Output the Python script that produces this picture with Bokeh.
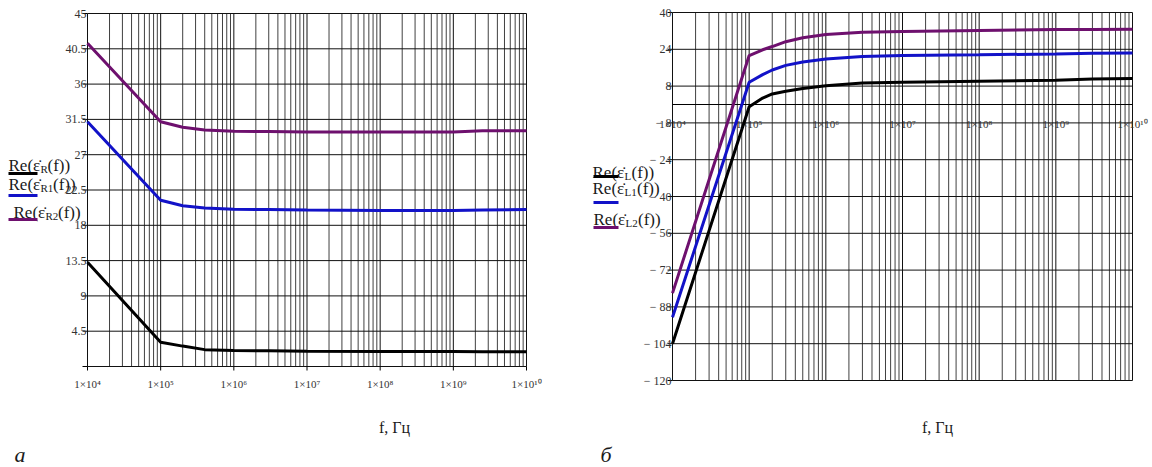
import math
from bokeh.plotting import figure
from bokeh.models import Range1d
from bokeh.layouts import row
from bokeh.embed import file_html
from bokeh.resources import INLINE
from bokeh.core.properties import value

# ---------------- data ----------------
freq_a = [1e4, 1e5, 2e5, 4e5, 1e6, 3e6, 1e7, 1e8, 1e9, 2.5e9, 1e10]
eps_R = [13.3, 3.1, 2.6, 2.15, 2.05, 2.0, 1.95, 1.92, 1.9, 1.88, 1.88]
eps_R1 = [31.2, 21.2, 20.5, 20.2, 20.05, 20.0, 19.95, 19.9, 19.9, 19.95, 20.0]
eps_R2 = [41.2, 31.2, 30.5, 30.15, 30.0, 29.95, 29.9, 29.9, 29.9, 30.05, 30.05]

freq_b = [1e4, 1e5, 1.5e5, 2e5, 3e5, 5e5, 1e6, 3e6, 1e7, 1e8, 1e9, 3e9, 1e10]
eps_L = [-104.0, -1.0, 2.8, 4.6, 5.8, 7.0, 8.2, 9.3, 9.7, 10.1, 10.5, 11.1, 11.3]
eps_L1 = [-92.5, 9.7, 13.0, 15.0, 17.0, 18.5, 19.8, 20.9, 21.3, 21.6, 22.0, 22.3, 22.4]
eps_L2 = [-82.0, 21.3, 23.8, 25.2, 27.3, 29.0, 30.4, 31.4, 31.7, 32.2, 32.6, 32.6, 32.7]

decades = [1e4, 1e5, 1e6, 1e7, 1e8, 1e9, 1e10]
x_tick_labels = ["1×10⁴", "1×10⁵", "1×10⁶", "1×10⁷", "1×10⁸", "1×10⁹", "1×10¹⁰"]

y_ticks_a = [0, 4.5, 9, 13.5, 18, 22.5, 27, 31.5, 36, 40.5, 45]
y_labels_a = ["", "4.5", "9", "13.5", "18", "22.5", "27", "31.5", "36", "40.5", "45"]

y_ticks_b = [-120, -104, -88, -72, -56, -40, -24, -8, 8, 24, 40]
y_labels_b = ["− 120", "− 104", "− 88", "− 72", "− 56", "− 40", "− 24", "− 8", "8", "24", "40"]

legend_a = [("Re(ε̇", "R", "(f))"), ("Re(ε̇", "R1", "(f))"), ("Re(ε̇", "R2", "(f))")]
legend_b = [("Re(ε̇", "L", "(f))"), ("Re(ε̇", "L1", "(f))"), ("Re(ε̇", "L2", "(f))")]
axis_title = "f, Гц"
panel_letters = ["а", "б"]

BLACK = "#000000"
BLUE = "#1212C8"
PURPLE = "#6E106E"
SERIF = value("Liberation Serif")
TXT = "#1a1a1a"

minor = [m * d for d in decades[:-1] for m in range(2, 10)]
W, H = 576, 466


def make_panel(bx0, bx1, by0, by1, ylo, yhi):
    """Figure whose frame is the whole canvas; the plot box sits at pixels bx0..bx1, by0..by1."""
    dpx = (bx1 - bx0) / 6.0
    ppu = (by1 - by0) / float(yhi - ylo)
    x_start = 10 ** (4 - bx0 / dpx)
    x_end = 10 ** (10 + (W - bx1) / dpx)
    y_end = yhi + by0 / ppu
    y_start = ylo - (H - by1) / ppu
    p = figure(width=W, height=H, x_axis_type="log", x_axis_location=None, y_axis_location=None,
               x_range=Range1d(x_start, x_end), y_range=Range1d(y_start, y_end),
               min_border=0, toolbar_location=None, output_backend="svg")
    p.grid.visible = False
    p.outline_line_color = None
    p.background_fill_color = "white"
    p.border_fill_color = "white"

    def X(px):
        return 10 ** (4 + (px - bx0) / dpx)

    def Y(py):
        return ylo + (by1 - py) / ppu

    return p, X, Y


def draw_box(p, ylo, yhi, yticks, ylabels):
    # vertical grid (minor then decades)
    p.segment(x0=minor, y0=[ylo] * len(minor), x1=minor, y1=[yhi] * len(minor),
              line_color="#404040", line_width=1)
    p.segment(x0=decades, y0=[ylo] * len(decades), x1=decades, y1=[yhi] * len(decades),
              line_color="#111111", line_width=1)
    # horizontal grid at y ticks
    p.segment(x0=[decades[0]] * len(yticks), y0=yticks, x1=[decades[-1]] * len(yticks), y1=yticks,
              line_color="#111111", line_width=1)
    # y tick marks & labels
    p.ray(x=[decades[0]] * len(yticks), y=yticks, length=5, length_units="screen",
          angle=math.pi, line_color="black", line_width=1)
    p.text(x=[decades[0]] * len(yticks), y=yticks, text=ylabels, x_offset=-1,
           text_align="right", text_baseline="middle", text_font=SERIF,
           text_font_size="12px", text_color="#333333")


def add_legend(p, X, Y, entries, starts, baselines, colors, line_ys, lx0, lx1):
    for (a, sub, b), sx, by in zip(entries, starts, baselines):
        w = 7 if len(sub) == 1 else 12.5
        p.text(x=[X(sx)], y=[Y(by)], text=[a], text_font=SERIF, text_font_size="17px",
               text_color=TXT, text_baseline="alphabetic")
        p.text(x=[X(sx + 32)], y=[Y(by + 3)], text=[sub], text_font=SERIF, text_font_size="11px",
               text_color=TXT, text_baseline="alphabetic")
        p.text(x=[X(sx + 32 + w)], y=[Y(by)], text=[b], text_font=SERIF, text_font_size="17px",
               text_color=TXT, text_baseline="alphabetic")
    for c, ly in zip(colors, line_ys):
        p.segment(x0=[X(lx0)], y0=[Y(ly)], x1=[X(lx1)], y1=[Y(ly)], line_color=c, line_width=3)


# ---------------- panel а ----------------
pa, Xa, Ya = make_panel(87, 526, 13, 366, 0, 45)
draw_box(pa, 0, 45, y_ticks_a, y_labels_a)
pa.ray(x=decades, y=[0] * len(decades), length=4, length_units="screen", angle=-math.pi / 2,
       line_color="black", line_width=1)
pa.text(x=decades, y=[0] * len(decades), text=x_tick_labels, y_offset=17, text_align="center",
        text_baseline="middle", text_font=SERIF, text_font_size="11px", text_color="#333333")

pa.line(freq_a, eps_R, line_color=BLACK, line_width=3)
pa.line(freq_a, eps_R1, line_color=BLUE, line_width=3)
pa.line(freq_a, eps_R2, line_color=PURPLE, line_width=3)

add_legend(pa, Xa, Ya, legend_a, [8, 8, 13], [165, 184, 212], [BLACK, BLUE, PURPLE],
           [173, 195, 219], 8, 37)
pa.text(x=[Xa(394)], y=[Ya(427)], text=[axis_title], text_font=SERIF, text_font_size="16px",
        text_align="center", text_baseline="alphabetic", text_color=TXT)
pa.text(x=[Xa(14)], y=[Ya(454)], text=[panel_letters[0]], text_font=SERIF, text_font_style="italic",
        text_font_size="22px", text_baseline="alphabetic", text_color=TXT)

# ---------------- panel б ----------------
pb, Xb, Yb = make_panel(96, 556, 12, 380, -120, 40)
draw_box(pb, -120, 40, y_ticks_b, y_labels_b)
pb.segment(x0=[decades[0]], y0=[0], x1=[decades[-1]], y1=[0], line_color="black", line_width=1)
pb.text(x=decades, y=[0] * len(decades), text=x_tick_labels, y_offset=19, text_align="center",
        text_baseline="middle", text_font=SERIF, text_font_size="11px", text_color="#333333")

pb.line(freq_b, eps_L, line_color=BLACK, line_width=3)
pb.line(freq_b, eps_L1, line_color=BLUE, line_width=3)
pb.line(freq_b, eps_L2, line_color=PURPLE, line_width=3)

add_legend(pb, Xb, Yb, legend_b, [16, 16, 17], [172, 188, 219], [BLACK, BLUE, PURPLE],
           [176, 202, 227], 17, 42)
pb.text(x=[Xb(361)], y=[Yb(427)], text=[axis_title], text_font=SERIF, text_font_size="16px",
        text_align="center", text_baseline="alphabetic", text_color=TXT)
pb.text(x=[Xb(24)], y=[Yb(454)], text=[panel_letters[1]], text_font=SERIF, text_font_style="italic",
        text_font_size="22px", text_baseline="alphabetic", text_color=TXT)

layout = row(pa, pb)
open("out.html", "w").write(file_html(layout, INLINE))
